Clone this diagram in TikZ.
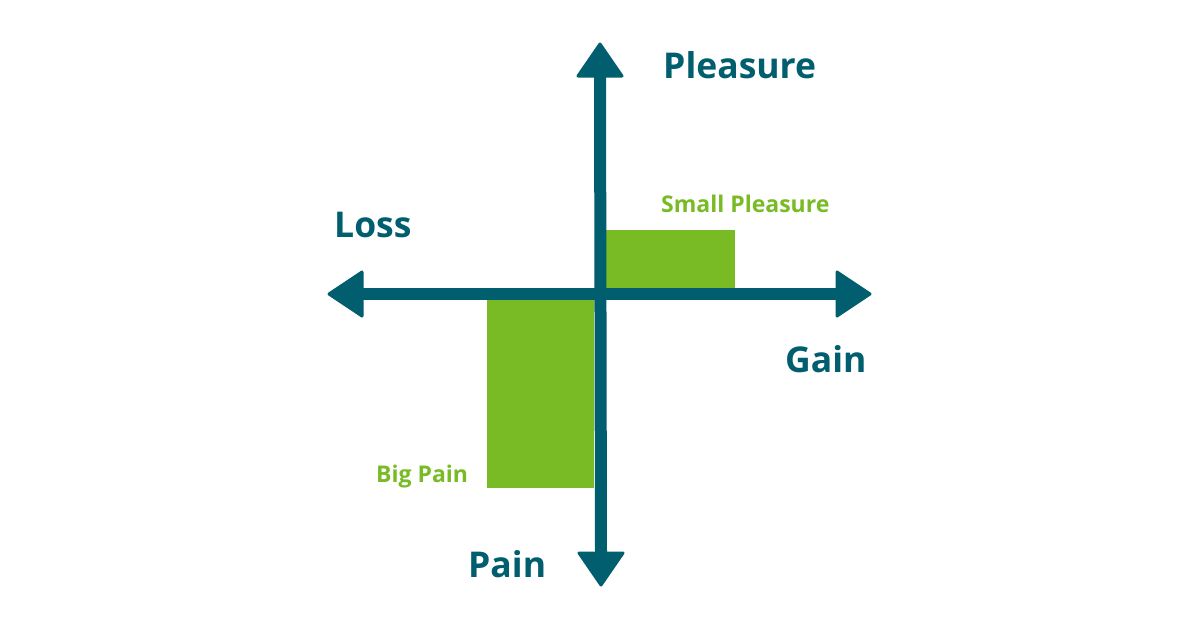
\documentclass[tikz,border=0pt]{standalone}
\usepackage{fontspec}
\setmainfont{Open Sans}
\definecolor{teal}{RGB}{0,94,110}
\definecolor{lgreen}{RGB}{120,187,37}
\tikzset{
  axisline/.style={draw=teal, line width=12pt},
  headfill/.style={fill=teal, draw=teal, line width=3pt, line join=round},
  biglabel/.style={text=teal, font=\fontsize{35.5}{40}\selectfont\bfseries, anchor=base west, inner sep=0pt},
  smalllabel/.style={text=lgreen, font=\fontsize{23}{27}\selectfont\bfseries, anchor=base west, inner sep=0pt},
  barfill/.style={fill=lgreen}
}
\begin{document}
\begin{tikzpicture}[x=1pt,y=-1pt]
\useasboundingbox (0,0) rectangle (1200,630);
% tips and bases
\coordinate (topTip) at (600,44);
\coordinate (topBase) at (600,76);
\coordinate (botTip) at (601,585);
\coordinate (botBase) at (601,553);
\coordinate (leftTip) at (329,294);
\coordinate (leftBase) at (362,294);
\coordinate (rightTip) at (870,294);
\coordinate (rightBase) at (837,294);
% bars
\fill[barfill] (606,230) rectangle (735,288);
\fill[barfill] (487,300) rectangle (594,488);
% axes
\draw[axisline] (topBase) -- (botBase);
\draw[axisline] (leftBase) -- (rightBase);
% arrow heads
\filldraw[headfill] (topTip) -- ([xshift=-22pt]topBase) -- ([xshift=22pt]topBase) -- cycle;
\filldraw[headfill] (botTip) -- ([xshift=-22pt]botBase) -- ([xshift=22pt]botBase) -- cycle;
\filldraw[headfill] (leftTip) -- ([yshift=-22pt]leftBase) -- ([yshift=22pt]leftBase) -- cycle;
\filldraw[headfill] (rightTip) -- ([yshift=-22pt]rightBase) -- ([yshift=22pt]rightBase) -- cycle;
% labels
\node[biglabel] (pleasure) at (663,78) {Pleasure};
\node[biglabel] (loss) at (334,237) {Loss};
\node[biglabel] (gain) at (785,372) {Gain};
\node[biglabel] (pain) at (468,577) {Pain};
\node[smalllabel] (smallp) at (661,212) {Small Pleasure};
\node[smalllabel] (bigp) at (376,482) {Big Pain};
\end{tikzpicture}
\end{document}
